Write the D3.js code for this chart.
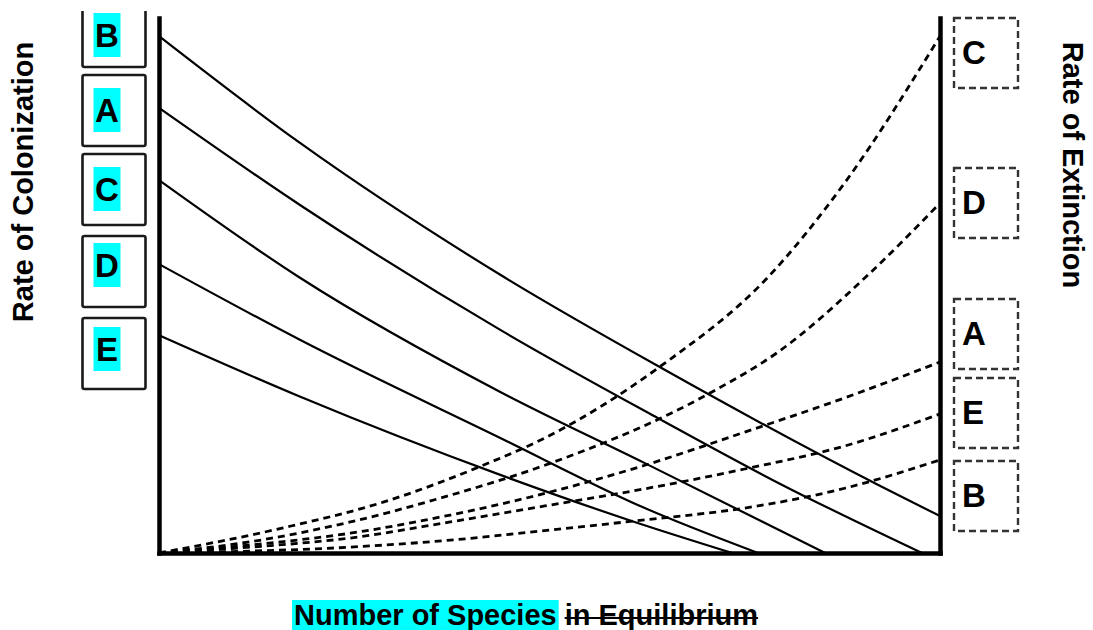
<!DOCTYPE html>
<html>
<head>
<meta charset="utf-8">
<script src="https://cdn.jsdelivr.net/npm/d3@7"></script>
<style>
  html, body { margin: 0; padding: 0; background: #fff; }
  svg { display: block; }
  text { font-family: "Liberation Sans", Arial, sans-serif; font-weight: bold; fill: #000; }
</style>
</head>
<body>
<svg id="chart" width="1093" height="630"></svg>
<script>
// ---------------- DATA ----------------
// Series labels (colonization order on the left, extinction order on the right)
const colonizationLabels = ["B", "A", "C", "D", "E"];
const extinctionLabels   = ["C", "D", "A", "E", "B"];

// Colonization curves: [number of species (0-100), rate (0-100)]
const colonB = [[0, 96.6], [18.1, 76.6], [43.7, 52.0], [64.8, 34.2], [92.1, 12.7], [100, 6.9]];
const colonA = [[0, 83.2], [18.1, 65.0], [43.7, 41.7], [63.9, 25.2], [79.3, 13.1], [97.7, 0]];
const colonC = [[0, 69.7], [18.1, 51.4], [43.7, 30.1], [62.2, 16.8], [85.3, 0]];
const colonD = [[0, 54.0], [18.1, 39.8], [43.7, 21.5], [62.2, 8.4], [76.7, 0]];
const colonE = [[0, 40.7], [18.1, 29.2], [43.7, 14.6], [60.9, 5.8], [73.4, 0]];

// Extinction curves: [number of species (0-100), rate (0-100)]
const extinC = [[0, 0], [15.9, 4.7], [28.7, 9.5], [41.5, 16.4], [49.4, 21.5], [64.4, 35.1], [78.0, 51.6], [87.8, 69.2], [100, 96.6]];
const extinD = [[0, 0], [11.7, 2.1], [24.5, 5.8], [37.3, 10.8], [49.4, 16.4], [70.8, 30.1], [79.3, 37.6], [90.8, 52.0], [100, 65.4]];
const extinA = [[0, 0], [11.7, 1.5], [24.5, 3.7], [37.3, 7.1], [50.1, 11.4], [62.2, 16.4], [75.0, 22.6], [87.8, 29.0], [100, 35.7]];
const extinE = [[0, 0], [11.7, 1.1], [24.5, 2.8], [37.3, 5.8], [49.4, 8.8], [62.2, 12.0], [75.0, 15.7], [87.8, 20.0], [100, 26.0]];
const extinB = [[0, 0], [24.5, 1.1], [37.3, 2.4], [50.1, 4.3], [62.2, 6.2], [75.0, 8.4], [87.8, 12.1], [100, 17.4]];

// Axis titles
const yLeftTitle  = "Rate of Colonization";
const yRightTitle = "Rate of Extinction";
const xTitleMain  = "Number of Species";
const xTitleStruck = "in Equilibrium";

// ---------------- LAYOUT ----------------
const colonizationSeries = [colonB, colonA, colonC, colonD, colonE];
const extinctionSeries   = [extinC, extinD, extinA, extinE, extinB];

const leftBoxTops  = [-4, 75, 154, 236, 318];      // box positions (layout)
const leftHiTops   = [13, 88, 167, 243, 327];      // cyan highlight tops
const rightBoxTops = [18, 168, 299, 378, 461];

const svg = d3.select("#chart");

const x = d3.scaleLinear().domain([0, 100]).range([159, 940]);
const y = d3.scaleLinear().domain([0, 100]).range([553, 18]);

const line = d3.line()
  .x(d => x(d[0]))
  .y(d => y(d[1]))
  .curve(d3.curveMonotoneX);

// curves
svg.append("g").selectAll("path")
  .data(colonizationSeries)
  .join("path")
  .attr("d", line)
  .attr("fill", "none")
  .attr("stroke", "#000")
  .attr("stroke-width", 2.2);

svg.append("g").selectAll("path")
  .data(extinctionSeries)
  .join("path")
  .attr("d", line)
  .attr("fill", "none")
  .attr("stroke", "#000")
  .attr("stroke-width", 2.8)
  .attr("stroke-dasharray", "7,5");

// axes (domain lines only)
const styleAxis = g => {
  g.selectAll(".tick").remove();
  g.select(".domain").attr("stroke", "#000").attr("stroke-width", 4.5).attr("stroke-linecap", "square");
};
svg.append("g").attr("transform", `translate(${x(0)},0)`)
  .call(d3.axisLeft(y).ticks(0).tickSizeOuter(0)).call(styleAxis);
svg.append("g").attr("transform", `translate(${x(100)},0)`)
  .call(d3.axisRight(y).ticks(0).tickSizeOuter(0)).call(styleAxis);
svg.append("g").attr("transform", `translate(0,${y(0)})`)
  .call(d3.axisBottom(x).ticks(0).tickSizeOuter(0)).call(styleAxis);

// left (solid) label boxes
svg.append("defs").append("clipPath").attr("id", "topclip")
  .append("rect").attr("x", 0).attr("y", 11).attr("width", 1093).attr("height", 619);

const leftG = svg.append("g").attr("clip-path", "url(#topclip)");
colonizationLabels.forEach((lab, i) => {
  const top = leftBoxTops[i];
  leftG.append("rect")
    .attr("x", 82.5).attr("y", top).attr("width", 63).attr("height", 71)
    .attr("rx", 2)
    .attr("fill", "#fff").attr("stroke", "#1a1a1a").attr("stroke-width", 2.6);
  const hy = leftHiTops[i];
  leftG.append("rect")
    .attr("x", 93.5).attr("y", hy).attr("width", 27).attr("height", 44)
    .attr("fill", "#00ffff");
  leftG.append("text")
    .attr("x", 107).attr("y", hy + 34)
    .attr("text-anchor", "middle")
    .attr("font-size", 33)
    .text(lab);
});

// right (dashed) label boxes
extinctionLabels.forEach((lab, i) => {
  const top = rightBoxTops[i];
  svg.append("rect")
    .attr("x", 954).attr("y", top).attr("width", 64).attr("height", 70)
    .attr("fill", "none").attr("stroke", "#333").attr("stroke-width", 2.4)
    .attr("stroke-dasharray", "7,4");
  svg.append("text")
    .attr("x", 962).attr("y", top + 46)
    .attr("font-size", 33)
    .text(lab);
});

// axis titles
svg.append("text")
  .attr("transform", "translate(33,182) rotate(-90)")
  .attr("text-anchor", "middle")
  .attr("font-size", 29)
  .text(yLeftTitle);

svg.append("text")
  .attr("transform", "translate(1063,165) rotate(90)")
  .attr("text-anchor", "middle")
  .attr("font-size", 29)
  .text(yRightTitle);

// bottom title with highlight and strikethrough
const hi = svg.append("rect").attr("fill", "#00ffff");
const t1 = svg.append("text").attr("x", 294).attr("y", 625).attr("font-size", 29).text(xTitleMain);
const w1 = t1.node().getComputedTextLength();
hi.attr("x", 292).attr("y", 600).attr("width", w1 + 4).attr("height", 32);
const x2 = 294 + w1 + 8;
const t2 = svg.append("text").attr("x", x2).attr("y", 625).attr("font-size", 29).text(xTitleStruck);
const w2 = t2.node().getComputedTextLength();
svg.append("line")
  .attr("x1", x2).attr("x2", x2 + w2)
  .attr("y1", 618).attr("y2", 618)
  .attr("stroke", "#000").attr("stroke-width", 2.2);
</script>
</body>
</html>
